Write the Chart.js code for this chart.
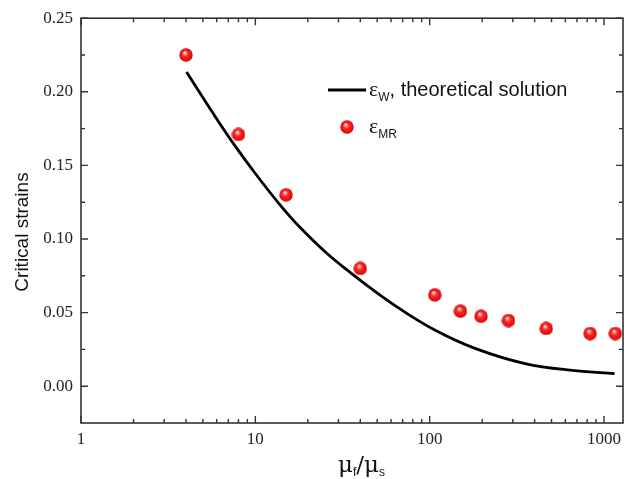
<!DOCTYPE html>
<html lang="en">
<head>
  <meta charset="UTF-8">
  <title>Critical strains</title>
  <script src="https://cdn.jsdelivr.net/npm/chart.js"></script>
  <style>
    body { margin: 0; background: #fff; }
  </style>
</head>
<body>
  <canvas id="strainChart" width="631" height="479"></canvas>

  <script>
    // Theoretical solution (black curve)
    const theoryX = [4.03, 5.7, 7.42, 10.1, 13.7, 17.8, 25.4, 36, 49, 66.5, 107.7, 182, 352, 680, 1150];
    const theoryY = [0.2135, 0.1857, 0.1655, 0.1438, 0.1239, 0.1086, 0.0908, 0.0761, 0.064, 0.053, 0.038, 0.0257, 0.0154, 0.0106, 0.0086];

    // MR points (red balls)
    const mrX = [4, 8, 15, 40, 107, 150, 197, 283, 466, 832, 1160];
    const mrY = [0.225, 0.171, 0.130, 0.080, 0.062, 0.051, 0.0475, 0.0446, 0.0392, 0.0358, 0.0358];

    // Axis ticks
    const xMajorTicks = [1, 10, 100, 1000];
    const yMajorTicks = [0, 0.05, 0.10, 0.15, 0.20, 0.25];
    const yMinorTicks = [0.025, 0.075, 0.125, 0.175, 0.225];

    const toXY = (xs, ys) => xs.map((x, i) => ({ x: x, y: ys[i] }));

    // shaded red ball used as point style
    function makeBall(size) {
      const c = document.createElement('canvas');
      c.width = size;
      c.height = size;
      const g = c.getContext('2d');
      const r = size / 2;
      const grad = g.createRadialGradient(r * 0.8, r * 0.65, 0, r, r, r);
      grad.addColorStop(0, '#ffffff');
      grad.addColorStop(0.16, '#ffb0b0');
      grad.addColorStop(0.4, '#ff2a2a');
      grad.addColorStop(0.85, '#e40a0a');
      grad.addColorStop(1, '#c40000');
      g.fillStyle = grad;
      g.beginPath();
      g.arc(r, r, r - 0.3, 0, Math.PI * 2);
      g.fill();
      return c;
    }
    const ball = makeBall(14);

    const axisColor = '#333';

    // frame, inward ticks on all four sides, titles and legend
    const decorations = {
      id: 'decorations',
      afterDraw(chart) {
        const ctx = chart.ctx;
        const a = chart.chartArea;
        const xs = chart.scales.x;
        const ys = chart.scales.y;
        ctx.save();
        ctx.strokeStyle = axisColor;
        ctx.lineWidth = 1.6;
        ctx.strokeRect(a.left, a.top, a.right - a.left, a.bottom - a.top);

        ctx.lineWidth = 1.4;
        ctx.beginPath();
        // x ticks (major decades + minors 2..9)
        for (let d = 1; d <= 1000; d *= 10) {
          for (let m = 1; m <= 9; m++) {
            const v = d * m;
            if (v > xs.max) break;
            const px = xs.getPixelForValue(v);
            const len = m === 1 ? 7 : 4;
            ctx.moveTo(px, a.bottom); ctx.lineTo(px, a.bottom - len);
            ctx.moveTo(px, a.top); ctx.lineTo(px, a.top + len);
          }
        }
        // y ticks
        yMajorTicks.concat(yMinorTicks).forEach(v => {
          const py = ys.getPixelForValue(v);
          const len = yMajorTicks.includes(v) ? 7 : 4;
          ctx.moveTo(a.left, py); ctx.lineTo(a.left + len, py);
          ctx.moveTo(a.right, py); ctx.lineTo(a.right - len, py);
        });
        ctx.stroke();

        // y title
        ctx.fillStyle = '#111';
        ctx.save();
        ctx.translate(23, 232);
        ctx.rotate(-Math.PI / 2);
        ctx.font = '19px "Liberation Sans", Arial, sans-serif';
        ctx.textAlign = 'center';
        ctx.textBaseline = 'middle';
        ctx.fillText('Critical strains', 0, 0);
        ctx.restore();

        // x title: mu_f / mu_s
        ctx.textAlign = 'left';
        ctx.textBaseline = 'alphabetic';
        let tx = 338;
        const ty = 472;
        const big = '23px "DejaVu Serif", "Liberation Serif", serif';
        const small = '12px "Liberation Sans", Arial, sans-serif';
        ctx.font = big; ctx.fillText('μ', tx, ty); tx += ctx.measureText('μ').width;
        ctx.font = small; ctx.fillText('f', tx, ty + 4); tx += ctx.measureText('f').width;
        ctx.font = big; ctx.fillText('/', tx, ty); tx += ctx.measureText('/').width;
        ctx.fillText('μ', tx, ty); tx += ctx.measureText('μ').width;
        ctx.font = small; ctx.fillText('s', tx, ty + 4);

        // legend
        ctx.strokeStyle = '#000';
        ctx.lineWidth = 2.8;
        ctx.beginPath();
        ctx.moveTo(328, 90); ctx.lineTo(366, 90);
        ctx.stroke();
        ctx.drawImage(ball, 347 - 7, 127 - 7);

        const eps = '22px "Liberation Serif", serif';
        const legFont = '20px "Liberation Sans", Arial, sans-serif';
        const subFont = '12px "Liberation Sans", Arial, sans-serif';
        ctx.fillStyle = '#111';
        let lx = 369;
        ctx.font = eps; ctx.fillText('ε', lx, 96); lx += ctx.measureText('ε').width;
        ctx.font = subFont; ctx.fillText('W', lx, 101); lx += ctx.measureText('W').width;
        ctx.font = legFont; ctx.fillText(', theoretical solution', lx, 96);

        lx = 369;
        ctx.font = eps; ctx.fillText('ε', lx, 133); lx += ctx.measureText('ε').width;
        ctx.font = subFont; ctx.fillText('MR', lx, 138);
        ctx.restore();
      }
    };

    new Chart(document.getElementById('strainChart'), {
      type: 'scatter',
      data: {
        datasets: [
          {
            label: 'theoretical solution',
            data: toXY(theoryX, theoryY),
            showLine: true,
            borderColor: '#000',
            borderWidth: 2.8,
            pointRadius: 0,
            tension: 0.4,
            order: 2
          },
          {
            label: 'MR',
            data: toXY(mrX, mrY),
            pointStyle: ball,
            pointRadius: 7,
            order: 1
          }
        ]
      },
      options: {
        responsive: false,
        animation: false,
        layout: { padding: { left: 0, top: 15, right: 6, bottom: 0 } },
        plugins: {
          legend: { display: false },
          tooltip: { enabled: false }
        },
        scales: {
          x: {
            type: 'logarithmic',
            min: 1,
            max: 1285,
            grid: { display: false, drawTicks: false },
            border: { display: false },
            afterBuildTicks: scale => { scale.ticks = xMajorTicks.map(v => ({ value: v })); },
            afterFit: scale => { scale.height = 56; },
            ticks: {
              padding: 6,
              maxRotation: 0,
              autoSkip: false,
              color: '#222',
              font: { family: '"Liberation Serif", serif', size: 17 },
              callback: v => String(v)
            }
          },
          y: {
            min: -0.025,
            max: 0.25,
            grid: { display: false, drawTicks: false },
            border: { display: false },
            afterBuildTicks: scale => { scale.ticks = yMajorTicks.map(v => ({ value: v })); },
            afterFit: scale => { scale.width = 81; },
            ticks: {
              padding: 8,
              color: '#222',
              font: { family: '"Liberation Serif", serif', size: 17 },
              callback: v => Number(v).toFixed(2)
            }
          }
        }
      },
      plugins: [decorations]
    });
  </script>
</body>
</html>
